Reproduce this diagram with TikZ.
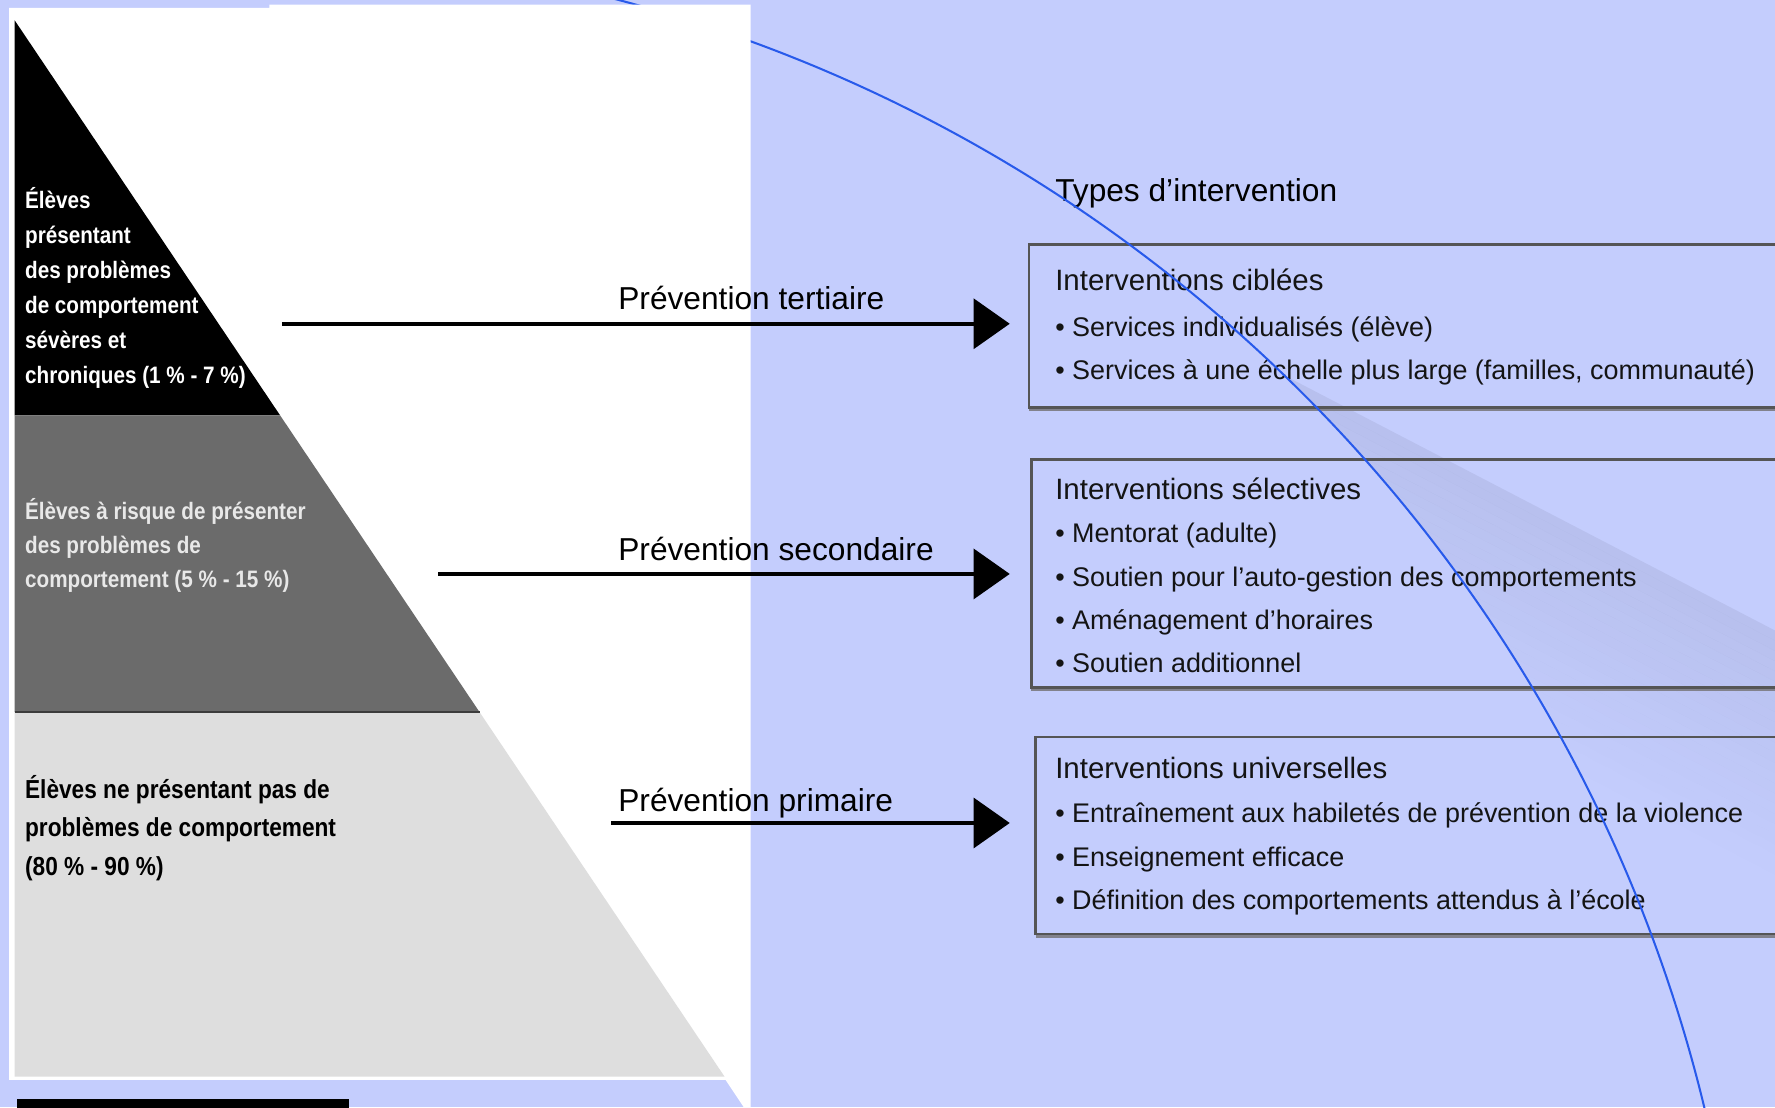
\documentclass[tikz,border=0pt]{standalone}
\usepackage{fontspec}
\setmainfont{Liberation Sans}
\newfontfamily\pyrfont[FakeStretch=0.87]{Liberation Sans}
\usetikzlibrary{arrows.meta}
\definecolor{bgblue}{RGB}{196,205,253}
\definecolor{dgray}{RGB}{107,107,107}
\definecolor{lgray}{RGB}{222,222,222}
\definecolor{arcblue}{RGB}{40,90,235}
\definecolor{boxline}{RGB}{85,85,85}
\definecolor{boxshade}{RGB}{130,130,140}
\definecolor{pyrlight}{RGB}{232,232,232}
\definecolor{sepgray}{RGB}{60,60,60}
\begin{document}
\begin{tikzpicture}[x=1pt,y=-1pt,
  ibox/.style={draw=boxline, line width=2.5pt, inner sep=0pt, outer sep=0pt, anchor=north west, minimum width=800pt},
  btitle/.style={anchor=base west, inner sep=0pt, text=black!92, font=\fontsize{26pt}{30pt}\selectfont},
  bitem/.style={anchor=base west, inner sep=0pt, text=black!92, font=\fontsize{23.8pt}{28pt}\selectfont},
  plabel/.style={anchor=base west, inner sep=0pt, font=\fontsize{28pt}{32pt}\selectfont},
  pyr/.style={anchor=base west, inner sep=0pt, font=\pyrfont\bfseries\fontsize{21pt}{25pt}\selectfont},
  pyrbig/.style={anchor=base west, inner sep=0pt, font=\pyrfont\bfseries\fontsize{23pt}{27pt}\selectfont},
  arr/.style={line width=4pt, -{Triangle[length=32pt,width=44pt]}},
  arcline/.style={draw=arcblue, line width=1.8pt},
  shadeline/.style={draw=boxshade, line width=2pt}
]
\useasboundingbox (0,0) rectangle (1568,978);
\fill[bgblue] (0,0) rectangle (1568,978);

% faint shadow band right of the arc
\begin{scope}
  \clip (1134.4,331.5) arc[start angle=-46,end angle=-10,radius=1338] -- (1600,1100) -- (1600,300) -- cycle;
  \foreach \k in {0,...,23} {
    \pgfmathsetmacro{\o}{0.06*(1-\k/24)}
    \fill[black,fill opacity=\o] (1100,{313.6+9*\k}) -- (1600,{573.6+9*\k}) -- (1600,{582.6+9*\k}) -- (1100,{322.6+9*\k}) -- cycle;
  }
\end{scope}

% boxes
\node[ibox, minimum height=144pt] (box1) at (909,216) {};
\node[ibox, minimum height=201pt] (box2) at (911,406) {};
\node[ibox, minimum height=174pt] (box3) at (915,651) {};
\draw[shadeline] ([yshift=-2.2pt]box1.south west) -- ([yshift=-2.2pt]box1.south east);
\draw[shadeline] ([yshift=-2.2pt]box2.south west) -- ([yshift=-2.2pt]box2.south east);
\draw[shadeline] ([yshift=-2.2pt]box3.south west) -- ([yshift=-2.2pt]box3.south east);

\node[plabel] (types) at (932,178) {Types d’intervention};

\node[btitle] (t1) at (932,257) {Interventions ciblées};
\node[bitem] (b11) at (932,297) {• Services individualisés (élève)};
\node[bitem] (b12) at (932,335) {• Services à une échelle plus large (familles, communauté)};

\node[btitle] (t2) at (932,441) {Interventions sélectives};
\node[bitem] (b21) at (932,479) {• Mentorat (adulte)};
\node[bitem] (b22) at (932,518) {• Soutien pour l'auto-gestion des comportements};
\node[bitem] (b23) at (932,556) {• Aménagement d'horaires};
\node[bitem] (b24) at (932,594) {• Soutien additionnel};

\node[btitle] (t3) at (932,688) {Interventions universelles};
\node[bitem] (b31) at (932,727) {• Entraînement aux habiletés de prévention de la violence};
\node[bitem] (b32) at (932,765) {• Enseignement efficace};
\node[bitem] (b33) at (932,803) {• Définition des comportements attendus à l’école};

% blue arc
\draw[arcline] (205,1294) circle[radius=1338];

% white panel
\fill[white] (8,7) -- (238,7) -- (238,4) -- (663,4) -- (663,978) -- (657,978) -- (641,954) -- (8,954) -- cycle;

% pyramid
\fill[black] (13,18) -- (247.5,367) -- (13,367) -- cycle;
\fill[dgray] (13,367) -- (247.5,367) -- (423.6,629) -- (13,629) -- cycle;
\fill[lgray] (13,629) -- (423.6,629) -- (640,951) -- (13,951) -- cycle;
\draw[sepgray, line width=2.5pt] (13,629) -- (423.6,629);
\fill[black] (15,971) rectangle (308,980);

\foreach \t [count=\i] in {Élèves, présentant, des problèmes, de comportement, sévères et, {chroniques (1 \% - 7 \%)}} {
  \node[pyr, text=white] (pa\i) at (22,{184+31*(\i-1)}) {\t};
}
\foreach \t [count=\i] in {Élèves à risque de présenter, des problèmes de, {comportement (5 \% - 15 \%)}} {
  \node[pyr, text=pyrlight] (pb\i) at (22,{459+30*(\i-1)}) {\t};
}
\foreach \t [count=\i] in {Élèves ne présentant pas de, problèmes de comportement, {(80 \% - 90 \%)}} {
  \node[pyrbig, text=black] (pc\i) at (22,{705+34*(\i-1)}) {\t};
}

% arrows
\coordinate (s1) at (249,286);
\coordinate (s2) at (387,507);
\coordinate (s3) at (540,727);
\draw[arr, shorten >=17pt] (s1) -- (box1.west |- s1);
\draw[arr, shorten >=19pt] (s2) -- (box2.west |- s2);
\draw[arr, shorten >=23pt] (s3) -- (box3.west |- s3);

\node[plabel] (p1) at (546,273) {Prévention tertiaire};
\node[plabel] (p2) at (546,495) {Prévention secondaire};
\node[plabel] (p3) at (546,717) {Prévention primaire};
\end{tikzpicture}
\end{document}
